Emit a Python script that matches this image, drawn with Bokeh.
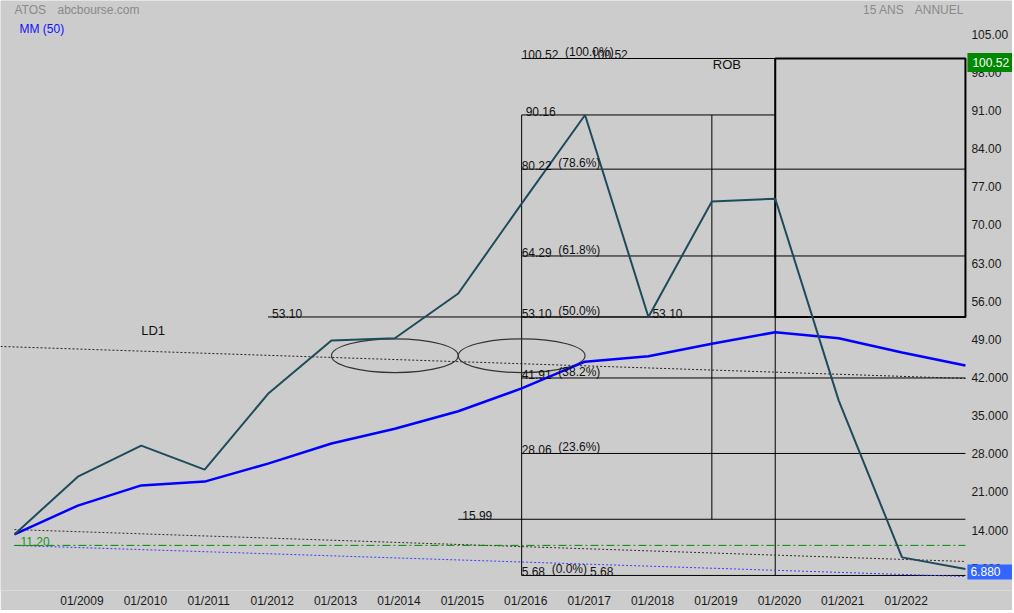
from bokeh.plotting import figure
from bokeh.models import (FixedTicker, CustomJSTickFormatter, Label, Range1d,
                          ColumnDataSource, LinearAxis)
from bokeh.core.properties import value
from bokeh.embed import file_html
from bokeh.resources import INLINE

FONT = value("Liberation Sans")

# ---------------- data ----------------
years = list(range(2008, 2024))
atos_close = [13.2, 23.8, 29.5, 25.1, 39.0, 48.8, 49.2, 57.4, 73.9, 90.16,
              53.10, 74.3, 74.8, 37.8, 9.0, 6.88]
mm50 = [13.2, 18.5, 22.2, 22.9, 26.2, 29.9, 32.6, 35.8, 40.0, 44.9,
        45.9, 48.2, 50.3, 49.2, 46.6, 44.2]

x_tick_years = list(range(2009, 2023))
x_tick_labels = ["01/2009", "01/2010", "01/2011", "01/2012", "01/2013", "01/2014",
                 "01/2015", "01/2016", "01/2017", "01/2018", "01/2019", "01/2020",
                 "01/2021", "01/2022"]
y_ticks = [7, 14, 21, 28, 35, 42, 49, 56, 63, 70, 77, 84, 91, 98, 105]

fib_levels = [5.68, 28.06, 41.91, 53.10, 64.29, 80.22, 100.52]
fib_pcts = ["0.0%", "23.6%", "38.2%", "50.0%", "61.8%", "78.6%", "100.0%"]
fib_start_year = 2016
end_year = 2023

peak_year, peak_value = 2017, 90.16
trough_year, trough_value = 2018, 53.10
mid_year = 2019
rob_year = 2020
rob_low, rob_high = 53.10, 100.52
support_value, support_year = 15.99, 2015
level_5310_year = 2012

ld1_x = [2007.78, 2023]
ld1_y = [47.69, 41.82]
ld2_x = [2008, 2023]
ld2_y = [14.1, 8.24]
ld3_x = [2008, 2023]
ld3_y = [11.18, 5.49]
low_value = 11.20

ell_x = [2014, 2016]
ell_y = [46.0, 46.0]
ell_w = [2.0, 2.0]
ell_h = [6.2, 6.2]

last_value = 6.88

# ---------------- figure ----------------
PX_PER_YEAR = 63.4
FRAME_W = 1012
x0 = 2007.78
x1 = x0 + FRAME_W / PX_PER_YEAR
y0, y1 = 2.92, 111.16
p = figure(width=FRAME_W, frame_height=590, x_range=Range1d(x0, x1), y_range=Range1d(y0, y1),
           y_axis_location=None, output_backend="svg", toolbar_location=None,
           min_border_left=0, min_border_top=0, min_border_right=0, min_border_bottom=0,
           background_fill_color="#cccccc", border_fill_color="#cccccc",
           outline_line_color=None)
p.grid.visible = False

ya = LinearAxis(fixed_location=end_year)
p.add_layout(ya, "right")

xa = p.xaxis[0]
xa.ticker = FixedTicker(ticks=[y + 0.065 for y in x_tick_years])
xa.formatter = CustomJSTickFormatter(args=dict(labels=x_tick_labels, first=x_tick_years[0]),
                                     code="return labels[Math.round(tick) - first];")
ya.ticker = FixedTicker(ticks=y_ticks)
ya.formatter = CustomJSTickFormatter(code="return tick <= 42 ? tick.toFixed(3) : tick.toFixed(2);")
for ax in (xa, ya):
    ax.axis_line_color = None
    ax.major_tick_line_color = None
    ax.minor_tick_line_color = None
    ax.major_tick_out = 0
    ax.major_tick_in = 0
    ax.minor_tick_out = 0
    ax.minor_tick_in = 0
    ax.major_label_text_font = "Liberation Sans"
    ax.major_label_text_font_size = "12px"
    ax.major_label_text_color = "#1a1a1a"
xa.major_label_standoff = 3
ya.major_label_standoff = 6

# ---------------- fibonacci construction ----------------
n = len(fib_levels)
p.segment(x0=[fib_start_year] * n, x1=[end_year] * n, y0=fib_levels, y1=fib_levels,
          line_color="black", line_width=1)
p.segment(x0=[level_5310_year, support_year, fib_start_year],
          x1=[end_year, end_year, rob_year],
          y0=[trough_value, support_value, peak_value],
          y1=[trough_value, support_value, peak_value],
          line_color="black", line_width=1)
p.segment(x0=[fib_start_year, mid_year, rob_year], x1=[fib_start_year, mid_year, rob_year],
          y0=[fib_levels[0], support_value, fib_levels[0]],
          y1=[peak_value, peak_value, rob_high],
          line_color="black", line_width=1)
p.quad(left=[rob_year], right=[end_year], bottom=[rob_low], top=[rob_high],
       fill_alpha=0, line_color="black", line_width=2)

# trend lines
p.line(ld1_x, ld1_y, line_color="#222222", line_width=1, line_dash="2 2")
p.line(ld2_x, ld2_y, line_color="#3a2a2a", line_width=1, line_dash="2 2")
p.line(ld3_x, ld3_y, line_color="#3c3cff", line_width=1, line_dash="2 2")
p.line([ld2_x[0], end_year], [low_value, low_value], line_color="#008800",
       line_width=1, line_dash="8 3 2 3")

# ellipses
p.ellipse(x=ell_x, y=ell_y, width=ell_w, height=ell_h, fill_alpha=0,
          line_color="#333333", line_width=1.2)

# series
p.line(years, mm50, line_color="#0000ff", line_width=2.5)
p.line(years, atos_close, line_color="#1e4b5c", line_width=2)

# ---------------- texts ----------------
fib_vals = ["%.2f" % v for v in fib_levels]
fib_pct_txt = ["(%s)" % pc for pc in fib_pcts]
pct_offsets = [6.67 * (len(s) - 1) + 3.34 + 6.67 for s in fib_vals]
src = ColumnDataSource(dict(x=[fib_start_year] * n, y=fib_levels, v=fib_vals,
                            pc=fib_pct_txt, off=pct_offsets))
p.text(x="x", y="y", text="v", source=src, text_font=FONT, text_font_size="12px",
       text_color="#111111", text_baseline="bottom", x_offset=0, y_offset=1)
p.text(x="x", y="y", text="pc", source=src, text_font=FONT, text_font_size="12px",
       text_color="#111111", text_baseline="bottom", x_offset="off", y_offset=1)

p.text(x=[peak_year, peak_year], y=[fib_levels[-1], fib_levels[0]],
       text=["%.2f" % fib_levels[-1], "%.2f" % fib_levels[0]],
       text_font=FONT, text_font_size="12px", text_color="#111111",
       text_baseline="bottom", x_offset=[6, 5], y_offset=1)
p.text(x=[fib_start_year, trough_year, level_5310_year, support_year],
       y=[peak_value, trough_value, trough_value, support_value],
       text=["%.2f" % peak_value, "%.2f" % trough_value, "%.2f" % trough_value, "%.2f" % support_value],
       text_font=FONT, text_font_size="12px", text_color="#111111",
       text_baseline="bottom", x_offset=4, y_offset=1)
p.text(x=[ld2_x[0]], y=[low_value], text=["%.2f" % low_value], text_font=FONT,
       text_font_size="12px", text_color="#1a941a", text_baseline="bottom", x_offset=6, y_offset=1)

p.text(x=[2010], y=[50.6], text=["LD1"], text_font=FONT, text_font_size="13px",
       text_color="#111111", text_baseline="middle", x_offset=0)
p.text(x=[mid_year], y=[rob_high], text=["ROB"], text_font=FONT, text_font_size="13px",
       text_color="#111111", text_baseline="top", x_offset=1, y_offset=-1)

# header
p.text(x=[x0, x0], y=[y1, y1], text=["ATOS", "abcbourse.com"], text_font=FONT,
       text_font_size="12px", text_color="#8a8a8a", text_baseline="top",
       x_offset=[14, 57], y_offset=2)
p.text(x=[x0], y=[y1], text=["MM (50)"], text_font=FONT, text_font_size="12px",
       text_color="#1010ff", text_baseline="top", x_offset=19, y_offset=21)
p.text(x=[end_year, end_year], y=[y1, y1], text=["15 ANS", "ANNUEL"], text_font=FONT,
       text_font_size="12px", text_color="#8a8a8a", text_baseline="top",
       text_align="right", x_offset=[-61, -2], y_offset=2)

# value boxes on the axis
p.add_layout(Label(x=end_year, y=rob_high, text="%.2f" % rob_high, x_offset=2, y_offset=-4,
                   text_font="Liberation Sans", text_font_size="12px", text_color="white",
                   text_baseline="middle", background_fill_color="#008800",
                   padding=(5, 10, 5, 5)))
p.add_layout(Label(x=end_year, y=last_value, text="%.3f" % last_value, x_offset=2, y_offset=-3,
                   text_font="Liberation Sans", text_font_size="12px", text_color="white",
                   text_baseline="middle", background_fill_color="#3366ff",
                   padding=(3, 15, 3, 3)))

open("out.html", "w").write(file_html(p, INLINE))
